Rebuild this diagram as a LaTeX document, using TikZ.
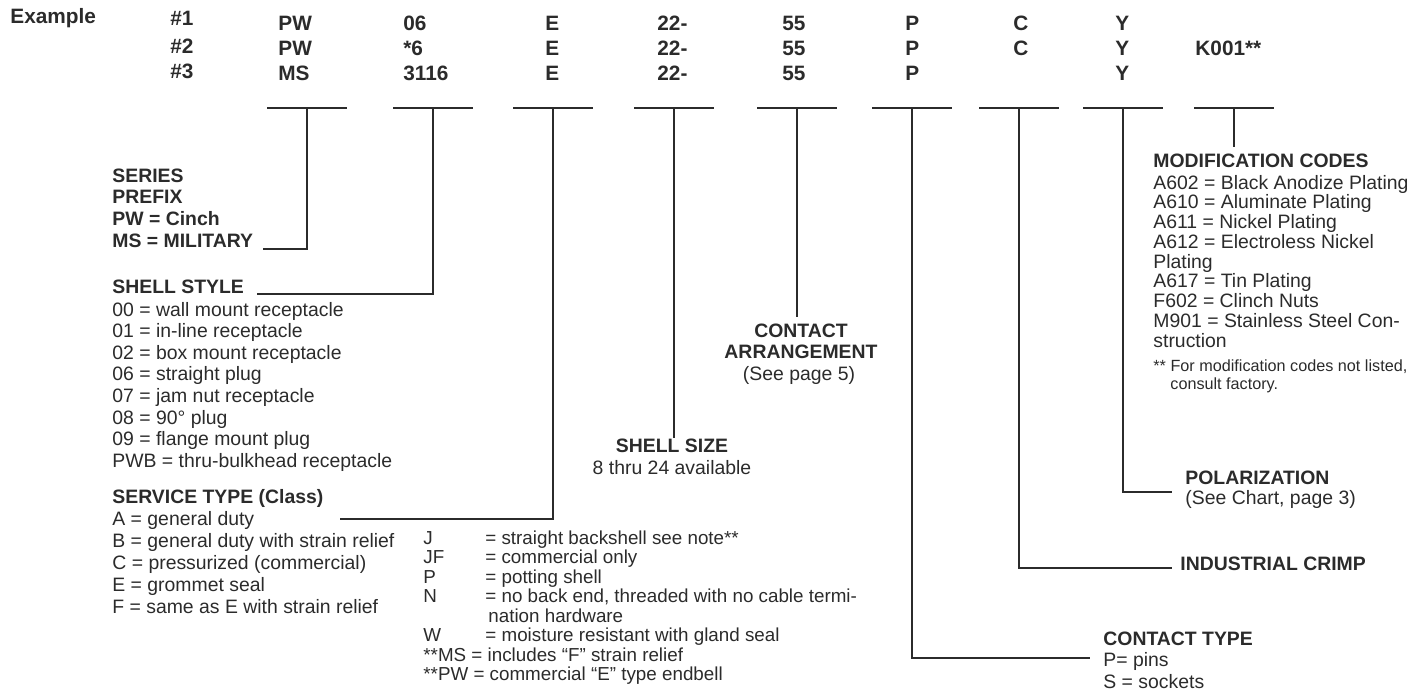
\documentclass[tikz,border=0pt]{standalone}
\usepackage{fontspec}
\setmainfont{Liberation Sans}
\usetikzlibrary{calc}
\definecolor{ink}{HTML}{2B2B2B}
\tikzset{
  code/.style={font=\bfseries\fontsize{10.4}{12}\selectfont, anchor=base west, inner sep=0, text=ink},
  head/.style={font=\bfseries\fontsize{9.7}{11}\selectfont, anchor=base west, inner sep=0, text=ink},
  txt/.style={font=\fontsize{9.7}{11}\selectfont, anchor=base west, inner sep=0, text=ink},
  opt/.style={font=\fontsize{9.4}{11}\selectfont, anchor=base west, inner sep=0, text=ink},
  note/.style={font=\fontsize{8.1}{10}\selectfont, anchor=base west, inner sep=0, text=ink},
  lead/.style={draw=ink, line width=1.1pt},
}

\begin{document}
\begin{tikzpicture}[x=0.5pt,y=-0.5pt]
		\useasboundingbox (0,0) rectangle (1422,692);
		%%%%% EXAMPLE ROWS %%%%%
		\node[code] (ex) at (10,23) {Example};
		\node[code] (n1) at (170,25) {\#1};
		\node[code] (n2) at (170,53) {\#2};
		\node[code] (n3) at (170,78) {\#3};
		
		\foreach \x/\a/\b/\c [count=\i] in {278/PW/PW/MS, 403/06/*6/3116, 545/E/E/E, 657/22-/22-/22-, 782/55/55/55, 905/P/P/P}{
			\node[code] (ra\i) at (\x,30) {\a};
			\node[code] (rb\i) at (\x,55) {\b};
			\node[code] (rc\i) at (\x,80) {\c};
		}
		\node[code] (ra7) at (1013,30) {C};
		\node[code] (rb7) at (1013,55) {C};
		\node[code] (ra8) at (1115,30) {Y};
		\node[code] (rb8) at (1115,55) {Y};
		\node[code] (rc8) at (1115,80) {Y};
		\node[code] (rb9) at (1195,55) {K001**};
		
		%%%%% BARS %%%%%
		\foreach \x [count=\i] in {307,433,553,674,797,912,1019,1123,1234}{
			\coordinate (b\i) at (\x,108);
			\draw[lead] (\x-40,108) -- (\x+40,108);
		}
		
		%%%%% LEFT: SERIES, SHELL STYLE, SERVICE %%%%%
		\foreach \t [count=\i] in {SERIES, PREFIX, PW = Cinch, MS = MILITARY}
			\node[head] (ser\i) at (112,160.3+21.7*\i) {\t};
		\coordinate (e1) at (263,249);
		\draw[lead] (b1) |- (e1);
		
		\node[head] (style) at (112,293) {SHELL STYLE};
		\foreach \t [count=\i] in {00 = wall mount receptacle, 01 = in-line receptacle, 02 = box mount receptacle, 06 = straight plug, 07 = jam nut receptacle, 08 = 90° plug, 09 = flange mount plug, PWB = thru-bulkhead receptacle}
			\node[txt] (style\i) at (112,294.5+21.6*\i) {\t};
		\coordinate (e2) at (257,294);
		\draw[lead] (b2) |- (e2);
		
		\node[head] (serv) at (112,503) {SERVICE TYPE (Class)};
		\foreach \t [count=\i] in {A = general duty, B = general duty with strain relief, C = pressurized (commercial), E = grommet seal, F = same as E with strain relief}
			\node[txt] (serv\i) at (112,503+22*\i) {\t};
		\coordinate (e3) at (340,519);
		\draw[lead] (b3) |- (e3);
		
		\foreach \l/\t/\y [count=\i] in {J/= straight backshell see note**/544, JF/= commercial only/563.5, P/= potting shell/583, N/{= no back end, threaded with no cable termi-}/602.5, W/= moisture resistant with gland seal/641.5}{
			\node[opt] (jl\i) at (423,\y) {\l};
			\node[opt] (jt\i) at (485,\y) {\t};
		}
		\node[opt] (jt6) at (488,622) {nation hardware};
		\node[opt] (jms) at (423,661) {**MS = includes “F” strain relief};
		\node[opt] (jpw) at (423,680.5) {**PW = commercial “E” type endbell};
		
		%%%%% MIDDLE: SIZE, ARRANGEMENT %%%%%
		\node[head, anchor=base] (size) at (672,452) {SHELL SIZE};
		\node[txt, anchor=base] (size2) at (672,474) {8 thru 24 available};
		\draw[lead] (b4) -- (b4 |- size.north);
		
		\node[head, anchor=base] (arr1) at (801,337) {CONTACT};
		\node[head, anchor=base] (arr2) at (801,358) {ARRANGEMENT};
		\node[txt, anchor=base] (arr3) at (799,380) {(See page 5)};
		\draw[lead, shorten >=3pt] (b5) -- (b5 |- arr1.north);
		
		%%%%% RIGHT: CONTACT TYPE, CRIMP, POLARIZATION, MODS %%%%%
		\node[head] (ct1) at (1103,645) {CONTACT TYPE};
		\node[txt] (ct2) at (1103,666) {P= pins};
		\node[txt] (ct3) at (1103,688) {S = sockets};
		\coordinate (e6) at (1090,658);
		\draw[lead] (b6) |- (e6);
		
		\node[head] (crimp) at (1180,570) {INDUSTRIAL CRIMP};
		\coordinate (e7) at (1172,568);
		\draw[lead] (b7) |- (e7);
		
		\node[head] (pol1) at (1185,484) {POLARIZATION};
		\node[txt] (pol2) at (1185,504) {(See Chart, page 3)};
		\coordinate (e8) at (1172,492);
		\draw[lead] (b8) |- (e8);
		
		\node[head] (mod) at (1153,167) {MODIFICATION CODES};
		\foreach \t [count=\i] in {A602 = Black Anodize Plating, A610 = Aluminate Plating, A611 = Nickel Plating, A612 = Electroless Nickel, Plating, A617 = Tin Plating, F602 = Clinch Nuts, M901 = Stainless Steel Con-, struction}
			\node[txt] (mod\i) at (1153,169.25+19.75*\i) {\t};
		\node[note] (modn1) at (1153,371) {** For modification codes not listed,};
		\node[note] (modn2) at (1170,389) {consult factory.};
		\draw[lead, shorten >=3pt] (b9) -- (b9 |- mod.north);
	\end{tikzpicture}
\end{document}
